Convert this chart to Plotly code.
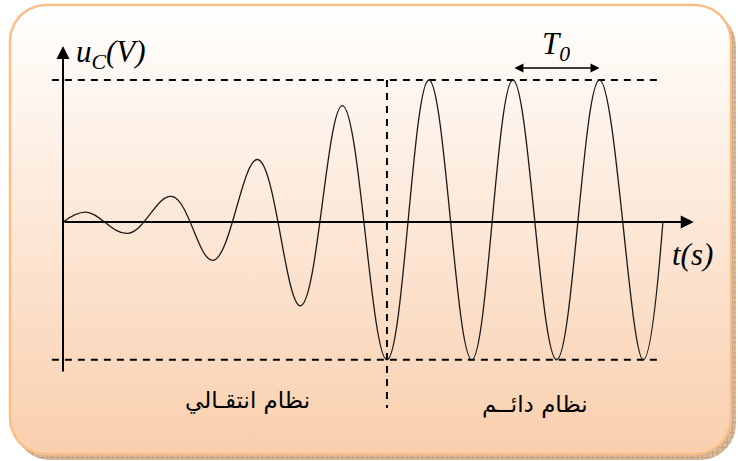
import numpy as np
import plotly.graph_objects as go

# Capacitor voltage u_C(t): start, successive extrema, end of the trace
t_pts = [0.00, 0.27, 0.76, 1.27, 1.75, 2.27, 2.77, 3.26, 3.78,
         4.27, 4.77, 5.25, 5.76, 6.26, 6.77, 7.00]
u_pts = [0, 0.07, -0.08, 0.18, -0.27, 0.44, -0.59, 0.82, -0.97,
         1.00, -0.97, 1.00, -0.97, 1.00, -0.97, 0]

u_max = 1.00          # steady-state maximum
u_min = -0.97         # steady-state minimum
t_steady = 3.78       # boundary between transient and steady regimes
t_T0 = [5.25, 6.26]   # two successive maxima -> one period T0

labels = {
    "u": "<i>u</i><sub><i>C</i></sub><i>(V)</i>",
    "t": "<i>t(s)</i>",
    "T0": "<i>T</i><sub><i>0</i></sub>",
    "transient": "نظام انتقـالي",
    "steady": "نظام دائــم",
}

W, H = 738, 461
X0, Y0 = 63, 222        # origin of the u(t) axes in pixels
PX_T, PX_U = 85.7, 142  # pixels per unit of t and of u

t_range = [-X0 / PX_T, (W - X0) / PX_T]
u_range = [-(H - Y0) / PX_U, Y0 / PX_U]


def rounded_rect(x0, y0, x1, y1, r, n=24):
    """Closed outline of a rounded rectangle in pixel coordinates (y downward)."""
    xs, ys = [], []
    corners = [(x1 - r, y0 + r, -90, 0), (x1 - r, y1 - r, 0, 90),
               (x0 + r, y1 - r, 90, 180), (x0 + r, y0 + r, 180, 270)]
    for cx, cy, a0, a1 in corners:
        a = np.radians(np.linspace(a0, a1, n))
        xs += list(cx + r * np.cos(a))
        ys += list(cy + r * np.sin(a))
    xs.append(xs[0])
    ys.append(ys[0])
    return xs, ys


fig = go.Figure()

# frame shadow
sx, sy = rounded_rect(14, 10, 736, 460, 36)
fig.add_trace(go.Scatter(
    x=sx, y=sy, mode="lines", fill="toself", line=dict(width=0),
    fillcolor="#C9A383",
    fillpattern=dict(shape="+", fgcolor="#A9805F", bgcolor="#D8B99C", size=5, solidity=0.3),
    hoverinfo="skip", showlegend=False, xaxis="x", yaxis="y"))

# frame with vertical gradient (white at the top, peach at the bottom)
bx, by = rounded_rect(10, 5, 731, 454, 36)
fig.add_trace(go.Scatter(
    x=bx, y=by, mode="lines", fill="toself",
    line=dict(color="#FBBE88", width=2.5),
    fillgradient=dict(type="vertical", colorscale=[[0, "#F9CFAD"], [1, "#FFFFFF"]]),
    hoverinfo="skip", showlegend=False, xaxis="x", yaxis="y"))

dash = "7px,6px"
t_left, t_right = -0.13, t_pts[-1]

# max / min dashed levels
for lvl in (u_max, u_min):
    fig.add_trace(go.Scatter(
        x=[t_left, t_right], y=[lvl, lvl], mode="lines",
        line=dict(color="black", width=2, dash=dash),
        hoverinfo="skip", showlegend=False, xaxis="x2", yaxis="y2"))

# regime boundary
fig.add_trace(go.Scatter(
    x=[t_steady, t_steady], y=[u_max, -1.31], mode="lines",
    line=dict(color="black", width=2, dash=dash),
    hoverinfo="skip", showlegend=False, xaxis="x2", yaxis="y2"))

# u_C(t)
fig.add_trace(go.Scatter(
    x=t_pts, y=u_pts, mode="lines",
    line=dict(color="#1a1a1a", width=1.3, shape="spline", smoothing=1.1),
    hoverinfo="skip", showlegend=False, xaxis="x2", yaxis="y2"))

ann = []
arrow = dict(xref="x2", yref="y2", axref="x2", ayref="y2", text="", showarrow=True,
             arrowcolor="black", arrowhead=2)
# time axis
ann.append(dict(arrow, x=7.36, y=0, ax=0, ay=0, arrowwidth=2, arrowsize=1.3))
# voltage axis
ann.append(dict(arrow, x=0, y=1.24, ax=0, ay=-1.063, arrowwidth=2, arrowsize=1.3))
# period arrow
ann.append(dict(arrow, x=t_T0[1], y=1.085, ax=t_T0[0], ay=1.085, arrowwidth=1.5,
                arrowside="end+start", startarrowhead=2, arrowsize=1.2, startarrowsize=1.2))

serif = dict(family="Liberation Serif", size=31, color="black")
arab = dict(family="DejaVu Sans", size=23, color="black")
ann.append(dict(xref="x", yref="y", x=74, y=54, text=labels["u"], showarrow=False,
                xanchor="left", yanchor="middle", font=serif))
ann.append(dict(xref="x", yref="y", x=670, y=254, text=labels["t"], showarrow=False,
                xanchor="left", yanchor="middle", font=serif))
ann.append(dict(xref="x2", yref="y2", x=(t_T0[0] + t_T0[1]) / 2, y=1.24, text=labels["T0"],
                showarrow=False, xanchor="center", yanchor="middle", font=serif))
ann.append(dict(xref="x", yref="y", x=247, y=400, text=labels["transient"], showarrow=False,
                xanchor="center", yanchor="middle", font=arab))
ann.append(dict(xref="x", yref="y", x=535, y=404, text=labels["steady"], showarrow=False,
                xanchor="center", yanchor="middle", font=arab))

fig.update_layout(
    width=W, height=H, margin=dict(l=0, r=0, t=0, b=0),
    paper_bgcolor="white", plot_bgcolor="rgba(0,0,0,0)",
    xaxis=dict(range=[0, W], visible=False, fixedrange=True),
    yaxis=dict(range=[H, 0], visible=False, fixedrange=True),
    xaxis2=dict(range=t_range, visible=False, overlaying="x", anchor="y2"),
    yaxis2=dict(range=u_range, visible=False, overlaying="y", anchor="x2"),
    annotations=ann,
    showlegend=False,
)

fig.write_html("out.html")
